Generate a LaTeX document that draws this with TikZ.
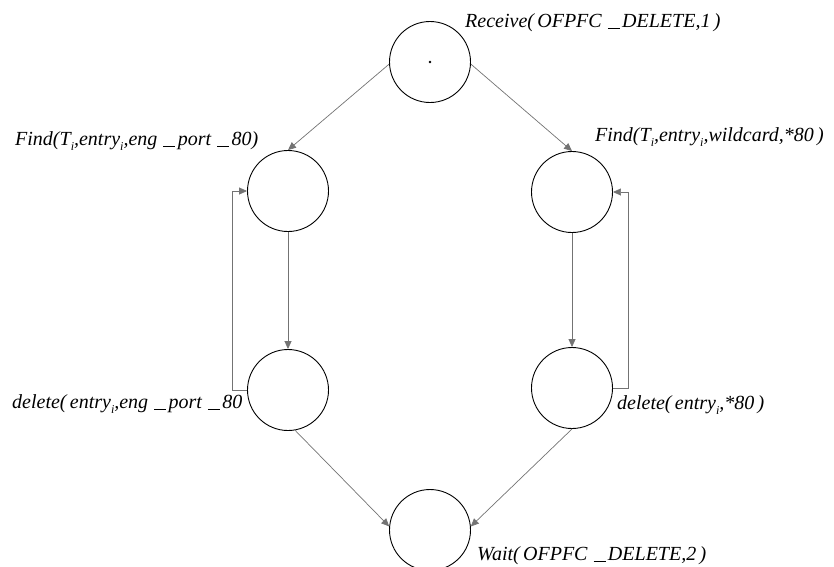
\documentclass[tikz,border=0pt]{standalone}
\usepackage{fontspec}
\setmainfont{Liberation Serif}
\usetikzlibrary{arrows.meta}
\newcommand{\sbi}{\raisebox{-0.28em}{\fontsize{12}{12}\selectfont i}}
\newcommand{\usc}{\kern0.05em\rule[-0.12em]{0.6em}{0.05em}\kern0.12em}
\tikzset{
  state/.style={circle,draw=black,line width=0.9pt,minimum size=81pt,inner sep=0pt},
  conn/.style={draw=black!55,line width=0.7pt,-{Triangle[length=8pt,width=7pt]}},
  lbl/.style={anchor=base west,inner sep=0pt,font=\fontsize{20}{24}\selectfont\itshape}
}
\begin{document}
\begin{tikzpicture}[x=1pt,y=-1pt]
\useasboundingbox (0,0) rectangle (834,566);
\node[state] (r) at (430,62) {};
\fill (r.center) circle (1.3pt);
\node[state] (f1) at (288,191) {};
\node[state] (f2) at (572,192) {};
\node[state] (d1) at (288,390) {};
\node[state] (d2) at (572,388) {};
\node[state] (w) at (430,530) {};
\coordinate (c1a) at (232,390);
\coordinate (c1b) at (232,191);
\coordinate (c2a) at (628,388);
\coordinate (c2b) at (628,192);
\node[lbl] (lr) at (465,27) {Receive(\,OFPFC \usc DELETE,1\,)};
\node[lbl] (lf1) at (15,145) {Find(T\sbi,entry\sbi,eng \usc port \usc 80)};
\node[lbl] (lf2) at (595,141) {Find(T\sbi,entry\sbi,wildcard,*80\,)};
\node[lbl] (ld1) at (12,408) {delete(\,entry\sbi,eng \usc port \usc 80};
\node[lbl] (ld2) at (617,409) {delete(\,entry\sbi,*80\,)};
\node[lbl] (lw) at (477,560) {Wait(\,OFPFC \usc DELETE,2\,)};
\draw[conn] (r.183) -- (f1.north);
\draw[conn] (r.-3) -- (f2.north);
\draw[conn] (f1.south) -- (d1.north);
\draw[conn] (f2.south) -- (d2.north);
\draw[conn] (d1.west) -- (c1a) -- (c1b) -- (f1.west);
\draw[conn] (d2.east) -- (c2a) -- (c2b) -- (f2.east);
\draw[conn] (d1.-80) -- (w.175);
\draw[conn] (d2.south) -- (w.5);
\end{tikzpicture}
\end{document}
